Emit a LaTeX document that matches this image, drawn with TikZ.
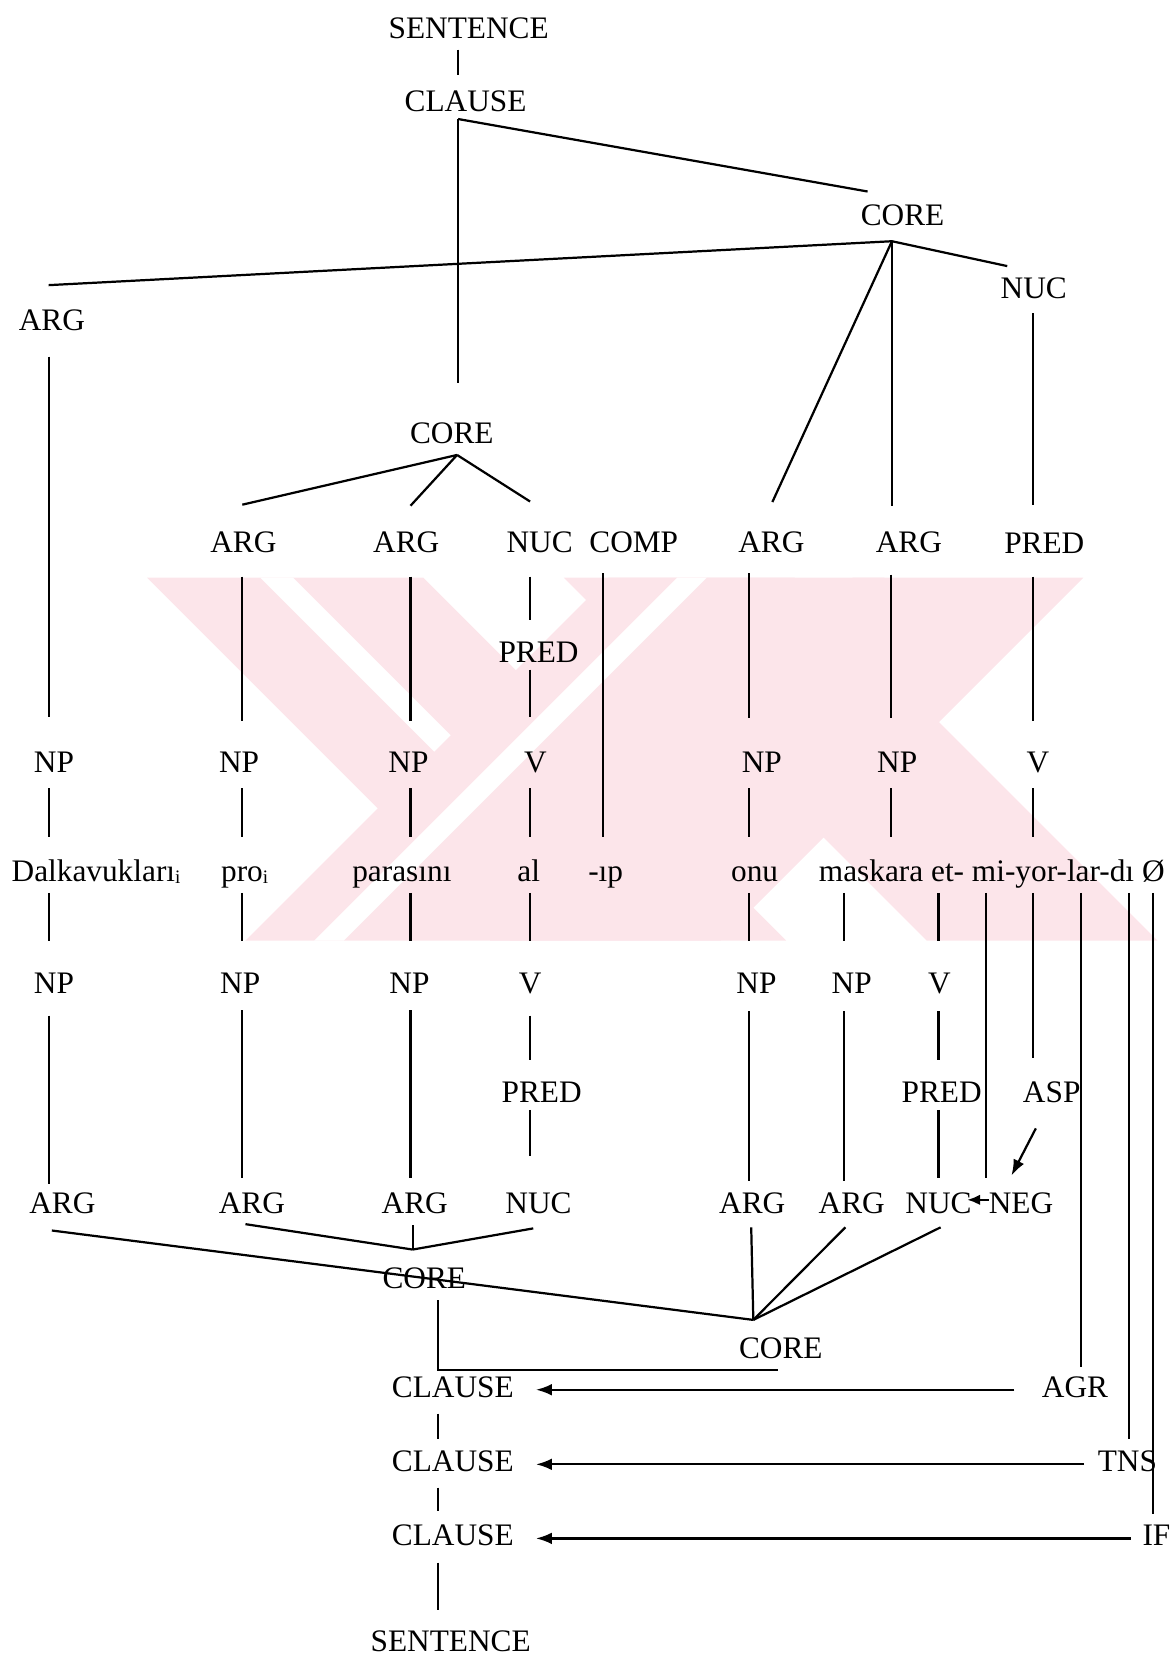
\documentclass[tikz,border=0pt]{standalone}
\usepackage{fontspec}
\setmainfont{Liberation Serif}
\usetikzlibrary{arrows.meta,calc}
\definecolor{wmpink}{RGB}{252,229,234}
\newcommand\subi{\raisebox{-2pt}{\fontsize{18}{18}\selectfont i}}
\begin{document}
\begin{tikzpicture}[x=1pt,y=-1pt,
  lbl/.style={inner sep=0pt, outer sep=0pt, anchor=base, text height=21pt, text depth=7pt,
              font=\fontsize{29.6}{34}\selectfont},
  word/.style={lbl, anchor=base west},
  ln/.style={line width=2.1pt},
  arr/.style={ln, -{Latex[length=15pt,width=11pt]}},
  arrsmall/.style={ln, -{Latex[length=12pt,width=10pt]}}]
\useasboundingbox (0,0) rectangle (1109,1568);

% ---- pale striped emblem in the background ----
\fill[wmpink] (533,546) -- (751,546) -- (1094,889) -- (876,889) -- cycle;
\fill[wmpink] (463,889) -- (681,889) -- (1024,546) -- (806,546) -- cycle;
\fill[wmpink] (139,546) -- (400,546) -- (743,889) -- (482,889) -- cycle;
\fill[white]  (246,546) -- (277,546) -- (451,720) -- (420,720) -- cycle;
\fill[wmpink] (232,889) -- (493,889) -- (836,546) -- (575,546) -- cycle;
\fill[white]  (297,889) -- (325,889) -- (668,546) -- (640,546) -- cycle;

% ---- columns of the vertical connectors ----
\coordinate (cT) at (433,0);
\coordinate (c1) at (46,0);
\coordinate (c2) at (229,0);
\coordinate (c3) at (388,0);
\coordinate (c4) at (501,0);
\coordinate (c5) at (570,0);
\coordinate (c6) at (708,0);
\coordinate (c7) at (842,0);
\coordinate (c8) at (976,0);
\coordinate (c9) at (798,0);
\coordinate (c10) at (887,0);
\coordinate (c11) at (932,0);
\coordinate (c13) at (1022,0);
\coordinate (c14) at (1067,0);
\coordinate (c15) at (1090,0);
\coordinate (cL) at (414,0);

% ---- upper tree ----
\node[lbl] (sentT) at (443,36) {SENTENCE};
\node[lbl] (clauseT) at (440,105.5) {CLAUSE};
\node[lbl] (coreT) at (853,213) {CORE};
\node[lbl] (nucT) at (977,282) {NUC};
\node[lbl] (argL) at (49,312) {ARG};
\node[lbl] (coreM) at (427,419) {CORE};

\node[lbl] (argB) at (230,522) {ARG};
\node[lbl] (argC) at (384,522) {ARG};
\node[lbl] (nucA) at (510,522) {NUC};
\node[lbl] (comp) at (599,522) {COMP};
\node[lbl] (argE) at (729,522) {ARG};
\node[lbl] (argF) at (859,522) {ARG};
\node[lbl] (predR) at (987,523) {PRED};
\node[lbl] (predA) at (509,626) {PRED};

\node[lbl] (np1) at (51,730) {NP};
\node[lbl] (np2) at (226,730) {NP};
\node[lbl] (np3) at (386,730) {NP};
\node[lbl] (vA) at (506,730) {V};
\node[lbl] (np5) at (720,730) {NP};
\node[lbl] (np6) at (848,730) {NP};
\node[lbl] (vR) at (981,730) {V};

% ---- the sentence ----
\node[word] (wDal) at (11,833) {Dalkavukları\subi};
\node[word] (wPro) at (209,833) {pro\subi};
\node[word] (wPar) at (333,833) {parasını};
\node[word] (wAl) at (489,833) {al};
\node[word] (wIp) at (556,833) {-ıp};
\node[word] (wOnu) at (691,833) {onu};
\node[word] (wMask) at (774,833) {maskara};
\node[word] (wEt) at ([xshift=7.4pt]wMask.base east) {et-};
\node[word] (wMi) at ([xshift=7.4pt]wEt.base east) {mi-};
\node[word] (wYor) at (wMi.base east) {yor-};
\node[word] (wLar) at (wYor.base east) {lar-};
\node[word] (wDi) at (wLar.base east) {dı};
\node[word] (wNull) at ([xshift=7.4pt]wDi.base east) {Ø};

% ---- lower tree ----
\node[lbl] (npb1) at (51,939) {NP};
\node[lbl] (npb2) at (227,939) {NP};
\node[lbl] (npb3) at (387,939) {NP};
\node[lbl] (vb4) at (501,939) {V};
\node[lbl] (npb5) at (715,939) {NP};
\node[lbl] (npb6) at (805,939) {NP};
\node[lbl] (vb7) at (888,939) {V};

\node[lbl] (predB) at (512,1042) {PRED};
\node[lbl] (predC) at (890,1042) {PRED};
\node[lbl] (asp) at (994,1042) {ASP};

\node[lbl] (argb1) at (59,1147) {ARG};
\node[lbl] (argb2) at (238,1147) {ARG};
\node[lbl] (argb3) at (392,1147) {ARG};
\node[lbl] (nucb4) at (509,1147) {NUC};
\node[lbl] (argb5) at (711,1147) {ARG};
\node[lbl] (argb6) at (805,1147) {ARG};
\node[lbl] (nucb7) at (887,1147) {NUC};
\node[lbl] (neg) at (965,1147) {NEG};

\node[lbl] (core1) at (401,1218) {CORE};
\node[lbl] (core2) at (738,1284) {CORE};

\node[lbl] (clause1) at (428,1321) {CLAUSE};
\node[lbl] (clause2) at (428,1391) {CLAUSE};
\node[lbl] (clause3) at (428,1461) {CLAUSE};
\node[lbl] (sentB) at (426,1561) {SENTENCE};

\node[lbl] (agr) at (1016,1320.5) {AGR};
\node[lbl] (tns) at (1065.5,1391) {TNS};
\node[lbl] (ifn) at (1093,1461) {IF};

% ---- connectors of the upper tree ----
\draw[ln, shorten <=4pt, shorten >=13.5pt] (sentT.south -| cT) -- (clauseT.north -| cT);
\draw[ln, shorten >=36pt] (clauseT.south -| cT) -- (coreM.north -| cT);
\draw[ln] (clauseT.south -| cT) -- ($(coreT.north)+(-33,-11)$);

\coordinate (jT) at ($(coreT.south)+(-10,8)$);
\draw[ln] (jT) -- ($(argL.north)+(-3,-21.5)$);
\draw[ln] (jT) -- ($(argE.north)+(1,-26.5)$);
\draw[ln] (jT) -- ($(argF.north -| jT)+(0,-23)$);
\draw[ln] (jT) -- ($(nucT.north)+(-25,-9.5)$);
\draw[ln, shorten <=7pt, shorten >=24.5pt] (nucT.south -| c8) -- (predR.north -| c8);
\draw[ln, shorten <=18pt, shorten >=31pt] (argL.south -| c1) -- (np1.north -| c1);

\coordinate (jM) at ($(coreM.south)+(5,4)$);
\draw[ln] (jM) -- ($(argB.north)+(-1,-24)$);
\draw[ln] (jM) -- ($(argC.north)+(4,-23)$);
\draw[ln] (jM) -- ($(nucA.north)+(-9,-27)$);

\draw[ln, shorten <=16pt, shorten >=28pt] (argB.south -| c2) -- (np2.north -| c2);
\draw[ln, shorten <=16pt, shorten >=28pt] (argC.south -| c3) -- (np3.north -| c3);
\draw[ln, shorten <=16pt, shorten >=19pt] (nucA.south -| c4) -- (predA.north -| c4);
\draw[ln, shorten >=31pt] (predA.south -| c4) -- (vA.north -| c4);
\draw[ln, shorten <=13pt, shorten >=21pt] (comp.south -| c5) -- (wIp.north -| c5);
\draw[ln, shorten <=13pt, shorten >=30pt] (argE.south -| c6) -- (np5.north -| c6);
\draw[ln, shorten <=14pt, shorten >=30pt] (argF.south -| c7) -- (np6.north -| c7);
\draw[ln, shorten <=15pt, shorten >=28pt] (predR.south -| c8) -- (vR.north -| c8);

\draw[ln, shorten <=8pt, shorten >=21pt] (np1.south -| c1) -- (wDal.north -| c1);
\draw[ln, shorten <=8pt, shorten >=21pt] (np2.south -| c2) -- (wPro.north -| c2);
\draw[ln, shorten <=8pt, shorten >=21pt] (np3.south -| c3) -- (wPar.north -| c3);
\draw[ln, shorten <=8pt, shorten >=21pt] (vA.south -| c4) -- (wAl.north -| c4);
\draw[ln, shorten <=8pt, shorten >=21pt] (np5.south -| c6) -- (wOnu.north -| c6);
\draw[ln, shorten <=8pt, shorten >=21pt] (np6.south -| c7) -- (wMask.north -| c7);
\draw[ln, shorten <=8pt, shorten >=21pt] (vR.south -| c8) -- (wYor.north -| c8);

% ---- connectors of the lower tree ----
\draw[ln, shorten <=4pt, shorten >=29pt] (wDal.south -| c1) -- (npb1.north -| c1);
\draw[ln, shorten <=4pt, shorten >=29pt] (wPro.south -| c2) -- (npb2.north -| c2);
\draw[ln, shorten <=4pt, shorten >=29pt] (wPar.south -| c3) -- (npb3.north -| c3);
\draw[ln, shorten <=4pt, shorten >=29pt] (wAl.south -| c4) -- (vb4.north -| c4);
\draw[ln, shorten <=4pt, shorten >=29pt] (wOnu.south -| c6) -- (npb5.north -| c6);
\draw[ln, shorten <=4pt, shorten >=29pt] (wMask.south -| c9) -- (npb6.north -| c9);
\draw[ln, shorten <=4pt, shorten >=29pt] (wEt.south -| c10) -- (vb7.north -| c10);
\draw[ln, shorten <=4pt, shorten >=13pt] (wMi.south -| c11) -- (neg.north -| c11);
\draw[ln, shorten <=4pt, shorten >=21pt] (wYor.south -| c8) -- (asp.north -| c8);
\draw[ln, shorten <=4pt, shorten >=7.5pt] (wLar.south -| c13) -- (agr.north -| c13);
\draw[ln, shorten <=4pt, shorten >=10pt] (wDi.south -| c14) -- (tns.north -| c14);
\draw[ln, shorten <=4pt, shorten >=9pt] (wNull.south -| c15) -- (ifn.north -| c15);

\draw[ln, shorten <=14pt, shorten >=7pt] (npb1.south -| c1) -- (argb1.north -| c1);
\draw[ln, shorten <=9pt, shorten >=13pt] (npb2.south -| c2) -- (argb2.north -| c2);
\draw[ln, shorten <=9pt, shorten >=13pt] (npb3.south -| c3) -- (argb3.north -| c3);
\draw[ln, shorten <=14pt, shorten >=19pt] (vb4.south -| c4) -- (predB.north -| c4);
\draw[ln, shorten >=33pt] (predB.south -| c4) -- (nucb4.north -| c4);
\draw[ln, shorten <=10pt, shorten >=10pt] (npb5.south -| c6) -- (argb5.north -| c6);
\draw[ln, shorten <=10pt, shorten >=10pt] (npb6.south -| c9) -- (argb6.north -| c9);
\draw[ln, shorten <=10pt, shorten >=19pt] (vb7.south -| c10) -- (predC.north -| c10);
\draw[ln, shorten >=13pt] (predC.south -| c10) -- (nucb7.north -| c10);

\draw[arr] ($(asp.south)+(-15,17.5)$) -- ($(neg.north)+(-9,-15)$);
\draw[arrsmall] ($(neg.west)+(0,-6)$) -- ($(nucb7.east)+(-4,-6)$);

\coordinate (j1) at (390,1181);
\coordinate (j2) at (712,1247.5);
\draw[ln] ($(argb1.south)+(-10,9)$) -- (j2);
\draw[ln] ($(argb2.south)+(-6,3)$) -- (j1);
\draw[ln] ($(argb3.south)+(-2,4)$) -- (j1);
\draw[ln] ($(nucb4.south)+(-5,7)$) -- (j1);
\draw[ln] ($(argb5.south)+(-1,6)$) -- (j2);
\draw[ln] ($(argb6.south)+(-6,6)$) -- (j2);
\draw[ln] ($(nucb7.south)+(2,6)$) -- (j2);

\draw[ln] ($(core1.south -| cL)+(0,4)$) |- ($(core2.south)+(-3,4)$);
\draw[ln, shorten <=8pt, shorten >=10pt] (clause1.south -| cL) -- (clause2.north -| cL);
\draw[ln, shorten <=8pt, shorten >=12pt] (clause2.south -| cL) -- (clause3.north -| cL);
\draw[ln, shorten <=9pt, shorten >=18pt] (clause3.south -| cL) -- (sentB.north -| cL);

\draw[arr, shorten <=26pt, shorten >=21pt] (agr.west) -- (agr.west -| clause1.east);
\draw[arr, shorten <=13pt, shorten >=21pt] (tns.west) -- (tns.west -| clause2.east);
\draw[arr, shorten <=11pt, shorten >=21pt] (ifn.west) -- (ifn.west -| clause3.east);
\end{tikzpicture}
\end{document}
